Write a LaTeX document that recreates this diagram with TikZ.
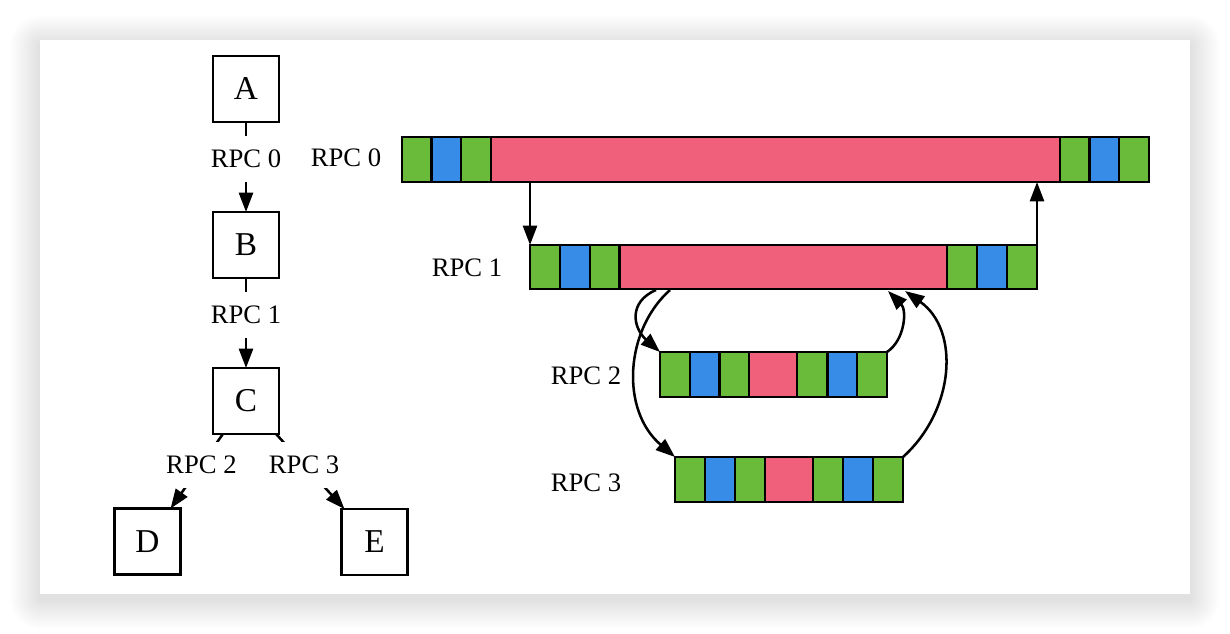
\documentclass[tikz,border=0pt]{standalone}
\usepackage{fontspec}
\setmainfont{Liberation Serif}
\usetikzlibrary{arrows.meta,fit}
\definecolor{cg}{HTML}{6ABB3A}
\definecolor{cb}{HTML}{378CE8}
\definecolor{cp}{HTML}{F0607A}
\begin{document}
\begin{tikzpicture}[x=0.75pt,y=-0.75pt,
  box/.style={draw, line width=1.9pt, minimum size=49.5pt, inner sep=0pt, outer sep=0pt, font=\fontsize{25}{30}\selectfont},
  lbl/.style={fill=white, inner sep=0pt, minimum height=34.5pt, font=\fontsize{20}{24}\selectfont},
  arr/.style={line width=1.9pt, -{Triangle[length=14.5pt,width=10.5pt]}},
  cell/.style={draw, line width=1.9pt},
  bar/.style={draw, line width=2.1pt, inner sep=0pt, outer sep=0pt},
  txt/.style={font=\fontsize{20}{24}\selectfont, inner sep=0pt}]
\useasboundingbox (0,0) rectangle (1230,634);
\fill[white] (0,0) rectangle (1230,634);
% card shadow
\foreach \i in {1,...,30}
  \fill[black, opacity=0.0021, rounded corners=\i*0.75pt] (40-\i,40-\i+5) rectangle (1190+\i,594+\i+5);
\fill[white] (40,40) rectangle (1190,594);

% left tree
\node[box] (A) at (246,89) {A};
\node[box] (B) at (246,245) {B};
\node[box] (C) at (246,401) {C};
\node[box] (D) at (147.5,541.5) {D};
\node[box] (E) at (374.5,542) {E};
\draw[arr] (A) -- node[lbl,pos=0.41] {RPC 0} (B);
\draw[arr] (B) -- node[lbl,pos=0.41] {RPC 1} (C);
\draw[arr] (C) -- node[lbl,pos=0.41] {RPC 2} (D);
\draw[arr] (C) -- node[lbl,pos=0.41] {RPC 3} (E);

% bars
\foreach \a/\b/\c in {402/431.5/cg, 431.5/461/cb, 461/491/cg, 491/1060/cp, 1060/1089.5/cg, 1089.5/1119/cb, 1119/1149/cg}
  \draw[cell, fill=\c] (\a,137) rectangle (\b,182);
\node[bar, fit={(402,137) (1149,182)}] (r0) {};
\foreach \a/\b/\c in {530/560/cg, 560/590/cb, 590/619.5/cg, 619.5/947/cp, 947/977/cg, 977/1007/cb, 1007/1037/cg}
  \draw[cell, fill=\c] (\a,245) rectangle (\b,289);
\node[bar, fit={(530,245) (1037,289)}] (r1) {};
\foreach \a/\b/\c in {660/690/cg, 690/719.5/cb, 719.5/749/cg, 749/797/cp, 797/827.5/cg, 827.5/857/cb, 857/887/cg}
  \draw[cell, fill=\c] (\a,352) rectangle (\b,397);
\node[bar, fit={(660,352) (887,397)}] (r2) {};
\foreach \a/\b/\c in {675/705/cg, 705/735/cb, 735/765/cg, 765/813/cp, 813/843/cg, 843/873/cb, 873/903/cg}
  \draw[cell, fill=\c] (\a,457) rectangle (\b,502);
\node[bar, fit={(675,457) (903,502)}] (r3) {};

\node[txt] (l0) at (346,158) {RPC 0};
\node[txt] (l1) at (467,268) {RPC 1};
\node[txt] (l2) at (586,376) {RPC 2};
\node[txt] (l3) at (586,483) {RPC 3};

% connectors
\draw[arr] (r1.north west |- r0.south) -- (r1.north west);
\draw[arr] (r1.north east) -- (r1.north east |- r0.south);
\coordinate (s2) at (656,290);
\coordinate (s3) at (670,290);
\coordinate (e2) at (888,291);
\coordinate (e3) at (905,291);
\draw[arr] (s2) .. controls (628,302) and (633,328) .. (r2.north west);
\draw[arr] (s3) .. controls (625,330) and (620,410) .. (r3.north west);
\draw[arr] (r2.north east) .. controls (905,340) and (907,310) .. (e2);
\draw[arr] (r3.north east) .. controls (955,410) and (960,330) .. (e3);
\end{tikzpicture}
\end{document}
